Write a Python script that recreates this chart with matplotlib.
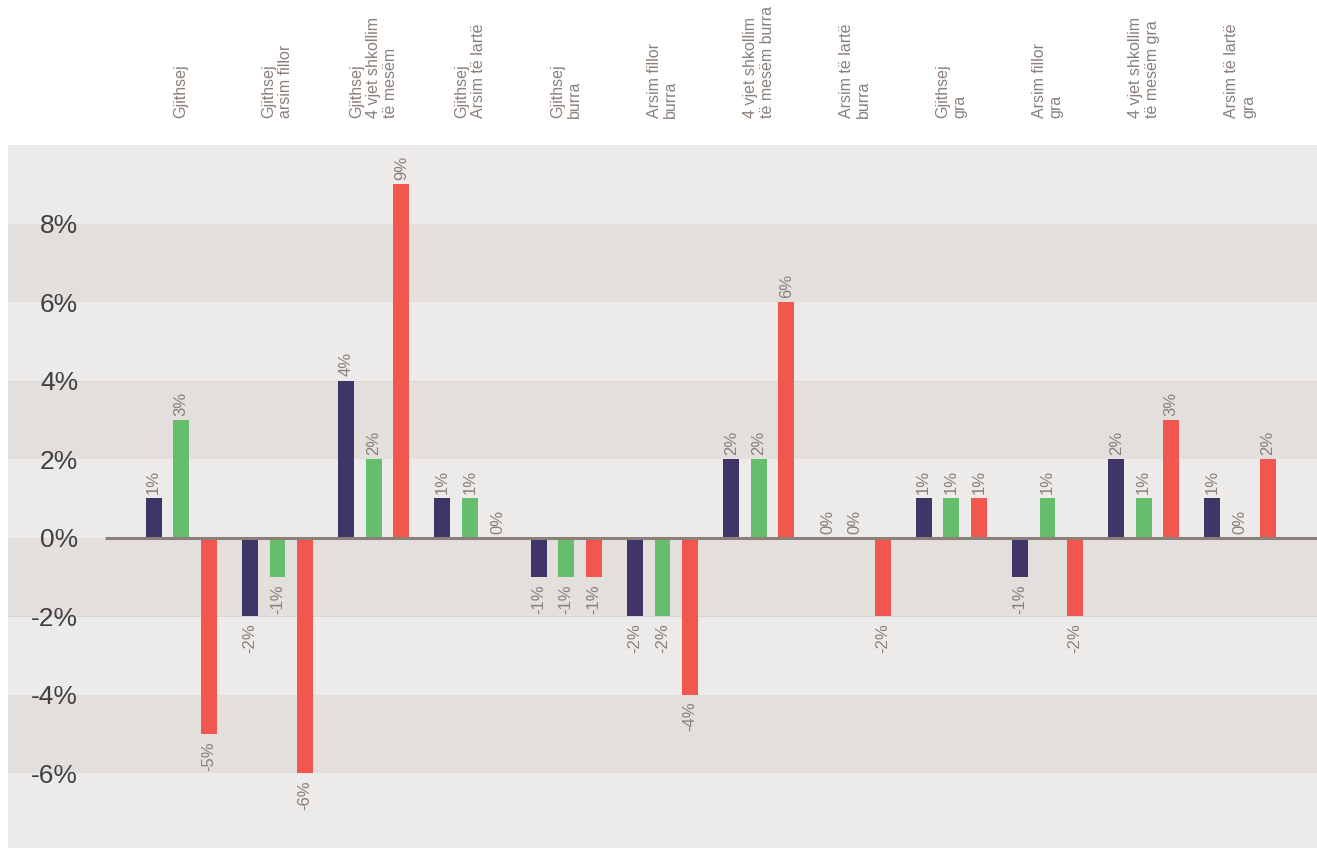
import matplotlib
matplotlib.use("Agg")
import matplotlib.pyplot as plt
import numpy as np

categories = [
    "Gjithsej",
    "Gjithsej\narsim fillor",
    "Gjithsej\n4 vjet shkollim\ntë mesëm",
    "Gjithsej\nArsim të lartë",
    "Gjithsej\nburra",
    "Arsim fillor\nburra",
    "4 vjet shkollim\ntë mesëm burra",
    "Arsim të lartë\nburra",
    "Gjithsej\ngra",
    "Arsim fillor\ngra",
    "4 vjet shkollim\ntë mesëm gra",
    "Arsim të lartë\ngra",
]
series_navy = [1, -2, 4, 1, -1, -2, 2, 0, 1, -1, 2, 1]
series_green = [3, -1, 2, 1, -1, -2, 2, 0, 1, 1, 1, 0]
series_red = [-5, -6, 9, 0, -1, -4, 6, -2, 1, -2, 3, 2]
ytick_values = [-6, -4, -2, 0, 2, 4, 6, 8]
ytick_labels = ["-6%", "-4%", "-2%", "0%", "2%", "4%", "6%", "8%"]

plt.rcParams['font.family'] = ['Liberation Sans', 'DejaVu Sans']

W, H = 1317, 848
fig = plt.figure(figsize=(W / 100, H / 100), dpi=100)
fig.patch.set_facecolor("white")
ax = fig.add_axes([8 / W, 0, (W - 8) / W, (H - 145) / H])

light = "#EDEBEA"
dark = "#E3DFDD"
ax.set_facecolor(light)
ax.set_ylim(-7.9, 10)
ax.set_xlim(-1.8, 11.8)

for lo in [6, 2, -2, -6]:
    ax.axhspan(lo, lo + 2, color=dark, zorder=0, lw=0)
for y in [4, -2]:
    ax.axhline(y, color="#D9D5D2", lw=0.7, zorder=0.5)

x = np.arange(len(categories))
off = 0.286
bw = 0.166
colors = ["#3F3568", "#66BE6C", "#F2574F"]
series = [series_navy, series_green, series_red]
label_color = "#8B7F78"

for k, (vals, c) in enumerate(zip(series, colors)):
    xs = x + (k - 1) * off
    ax.bar(xs, vals, width=bw, color=c, zorder=2)
    for xi, v in zip(xs, vals):
        if v >= 0:
            ax.annotate(f"{v}%", (xi, v), xytext=(0, 3), textcoords="offset points",
                        rotation=90, ha="center", va="bottom", fontsize=12,
                        color=label_color, zorder=3)
        else:
            ax.annotate(f"{v}%", (xi, v), xytext=(0, -5), textcoords="offset points",
                        rotation=90, ha="center", va="top", fontsize=12,
                        color=label_color, zorder=3)

# zero line
ax.plot([-0.79, 11.8], [0, 0], color="#8B7F78", lw=2.2, zorder=4, solid_capstyle="butt")

# category labels at top
for xi, lab in zip(x, categories):
    ax.text(xi, 1.0 + 27 / (H - 145), lab, transform=ax.get_xaxis_transform(), rotation=90,
            ha="center", va="bottom", fontsize=11.5, color=label_color,
            linespacing=1.15, multialignment="left")

ax.set_xticks([])
ax.set_yticks(ytick_values)
ax.set_yticklabels(ytick_labels)
ax.tick_params(axis="y", length=0, pad=-50.5, labelsize=19, labelcolor="#404040")
for lab in ax.get_yticklabels():
    lab.set_horizontalalignment("right")

for s in ax.spines.values():
    s.set_visible(False)

fig.savefig("out.png", dpi=100, facecolor="white")
